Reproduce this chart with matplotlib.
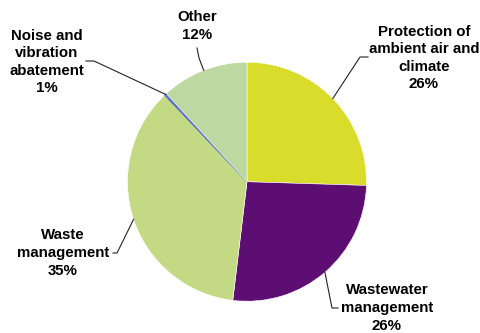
import numpy as np
import matplotlib.pyplot as plt

plt.rcParams['font.family'] = ['Liberation Sans', 'DejaVu Sans']

W, H = 481, 333

# slices, clockwise from 12 o'clock
names = ['Protection of\nambient air and\nclimate', 'Wastewater\nmanagement',
         'Waste\nmanagement', 'Noise and\nvibration\nabatement', 'Other']
shares = [25.5, 26.4, 36.0, 0.3, 11.8]
pct_labels = ['26%', '26%', '35%', '1%', '12%']
colors = ['#d9dc2a', '#5c0e73', '#c4d984', '#5a6ec8', '#bdd8a1']

# label layout in pixels: text centre, elbow, line end
text_pos = [(424, 58), (387, 308), (63, 253), (47, 62), (197, 26)]
elbows = [(360, 57), (332, 308), (117, 253), (94, 61), (199, 58)]
ends = [(368, 57), (338, 308), (113, 253), (86, 61), (197, 48)]

cx, cy, r = 247, 181.7, 119.5

fig = plt.figure(figsize=(4.81, 3.33), dpi=100)
ax = fig.add_axes([0, 0, 1, 1])

wedges, _ = ax.pie(shares, colors=colors, startangle=90, counterclock=False,
                   center=(cx, H - cy), radius=r,
                   wedgeprops=dict(edgecolor='white', linewidth=0.4))
# noise slice is tiny, give it a blue edge so it shows as a line
wedges[3].set_edgecolor(colors[3])
wedges[3].set_linewidth(0.8)

total = sum(shares)
cum = 0
for i, s in enumerate(shares):
    mid = (cum + s / 2) / total * 360
    cum += s
    ang = np.deg2rad(90 - mid)
    px, py = cx + r * np.cos(ang), (H - cy) + r * np.sin(ang)
    ex, ey = elbows[i]
    tx, ty = ends[i]
    ax.plot([px, ex, tx], [py, H - ey, H - ty], color='#222222', lw=0.8,
            solid_joinstyle='miter')
    x, y = text_pos[i]
    ax.text(x, H - y, names[i] + '\n' + pct_labels[i], ha='center', va='center',
            multialignment='center', fontsize=10.8, fontweight='bold',
            linespacing=1.32, color='black')

ax.set_xlim(0, W)
ax.set_ylim(0, H)
ax.set_aspect('equal')
ax.axis('off')

fig.savefig('out.png', dpi=100)
